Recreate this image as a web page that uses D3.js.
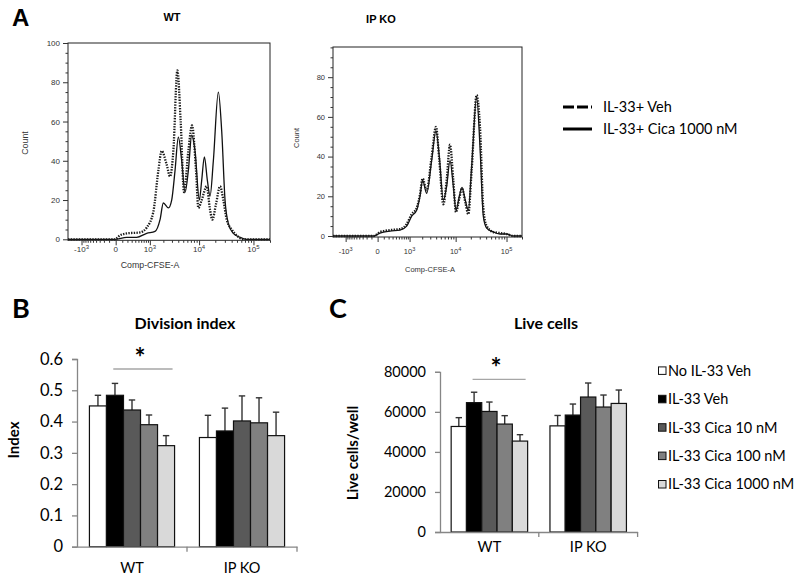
<!DOCTYPE html>
<html><head><meta charset="utf-8">
<script src="https://cdn.jsdelivr.net/npm/d3@7"></script>
<style>body{margin:0;background:#fff}svg{display:block}</style>
</head><body>
<svg id="c" width="800" height="581"></svg>
<script>
// ================= DATA =================
// Panel A: CFSE histograms, [Comp-CFSE-A intensity, count]
const wtVeh = [[-2000,0],[-300,0],[-10,0],[62,2],[184,3],[557,3.5],[837,6],[1208,14],[1562,35],[1843,45],[2346,38],[2743,32],[3200,45],[3843,86],[4461,60],[5179,24],[6269,45],[7358,58],[8763,35],[9686,16],[11189,20],[13860,27],[16000,15],[17640,10],[20630,18],[24440,27],[28160,20],[32440,10],[40000,5],[49450,2],[65500,0],[200000,0]];
const wtCica = [[-2000,0],[-300,0],[-10,0],[184,1],[443,1],[837,3],[1318,4],[1699,10],[1997,18.5],[2537,16],[2964,20],[3455,35],[4020,52],[4668,40],[5415,24],[6269,35],[7261,53],[8388,45],[10117,20],[11189,30],[12553,42],[14270,30],[16000,22],[18420,40],[22780,75],[26270,55],[30210,20],[34800,8],[42840,3],[56900,1],[75300,0],[200000,0]];
const koVeh = [[-2000,0],[-200,0],[-60,0],[35,2],[233,3],[541,3.5],[839,6],[1129,11],[1488,14],[1779,21],[2043,29],[2505,23],[3213,40],[3969,55],[4657,38],[5625,16],[6580,28],[7696,46],[8975,28],[10160,12],[11840,19],[13390,24],[15560,17],[17860,11],[20770,33],[26070,71],[30300,55],[35200,14],[40950,5],[55250,2],[74560,1.5],[100500,1],[135500,0],[200000,0]];
const koCica = [[-2000,0],[-200,0],[-60,0],[35,1.5],[233,2.5],[541,3],[839,5],[1129,10],[1488,13],[1779,20],[2043,28],[2505,21.5],[3213,38],[3969,53],[4657,40],[5625,18],[6580,25],[7696,38],[8975,25],[10160,13],[11840,20],[13390,24.5],[15560,18],[17860,13],[20770,35],[26070,70],[30300,45],[35200,10],[40950,4],[55250,2],[74560,1],[100500,1],[135500,0],[200000,0]];
const cfseTicks = [-1000, 0, 1000, 10000, 100000];
const cfseTickBase = ["-10", "0", "10", "10", "10"];
const cfseTickExp = ["3", "", "3", "4", "5"];
const cfseMinor = [-900,-800,-700,-600,-500,-400,-300,-200,-100,100,200,300,400,500,600,700,800,900,2000,3000,4000,5000,6000,7000,8000,9000,20000,30000,40000,50000,60000,70000,80000,90000,200000];
const countTicksWT = [0,20,40,60,80,100];
const countTicksKO = [0,20,40,60,80];
const histLegend = ["IL-33+ Veh", "IL-33+ Cica 1000 nM"];

// Panels B and C
const groups = ["WT", "IP KO"];
const treatments = ["No IL-33 Veh", "IL-33 Veh", "IL-33 Cica 10 nM", "IL-33 Cica 100 nM", "IL-33 Cica 1000 nM"];
const treatmentColors = ["#ffffff", "#000000", "#595959", "#808080", "#d9d9d9"];
const divWT = [0.450, 0.484, 0.437, 0.390, 0.323];
const divWTerr = [0.034, 0.038, 0.032, 0.031, 0.032];
const divKO = [0.349, 0.370, 0.402, 0.396, 0.355];
const divKOerr = [0.071, 0.073, 0.080, 0.080, 0.075];
const liveWT = [52700, 64600, 60200, 53900, 45400];
const liveWTerr = [4400, 5200, 4700, 4200, 3200];
const liveKO = [53000, 58400, 67400, 62400, 64200];
const liveKOerr = [5200, 5500, 7000, 6000, 6700];
const divTicks = [0, 0.1, 0.2, 0.3, 0.4, 0.5, 0.6];
const liveTicks = [0, 20000, 40000, 60000, 80000];

// ================= DRAW =================
const svg = d3.select("#c");
const ARIAL = "'Liberation Sans', Arial, sans-serif";
const CAL = "Lato, 'Open Sans', sans-serif";

// panel letters
[["A", 12, 26, ARIAL, 24], ["B", 12, 318, CAL, 27], ["C", 329, 318, CAL, 27]].forEach(([t, x, y, f, s]) => {
  svg.append("text").attr("x", x).attr("y", y).attr("font-family", f).attr("font-weight", "bold")
    .attr("font-size", s).text(t);
});

function histPanel(p) {
  const x = d3.scaleSymlog().constant(315).domain([-2000, 200000]).range([p.x0, p.x1]);
  const y = d3.scaleLinear().domain([0, p.yMax]).range([p.yZero, p.yTop]);
  const g = svg.append("g");
  const line = d3.line().x(d => x(d[0])).y(d => y(d[1])).curve(d3.curveMonotoneX);
  g.append("path").datum(p.cica).attr("d", line).attr("fill", "none")
    .attr("stroke", "#111").attr("stroke-width", 1.3);
  g.append("path").datum(p.veh).attr("d", line).attr("fill", "none")
    .attr("stroke", "#1a1a1a").attr("stroke-width", 2.3).attr("stroke-dasharray", "1.4,1.3");
  g.append("rect").attr("x", p.x0).attr("y", p.yTop).attr("width", p.x1 - p.x0)
    .attr("height", p.yZero - p.yTop + 1).attr("fill", "none").attr("stroke", "#222").attr("stroke-width", 1);

  // y axis
  const yMinor = d3.range(5, p.yMax, 5).filter(v => v % 20 !== 0);
  const ya = g.append("g").attr("transform", `translate(${p.x0},0)`)
    .call(d3.axisLeft(y).tickValues(p.yTicks).tickSize(5).tickPadding(3));
  ya.select(".domain").remove();
  ya.selectAll("text").attr("font-family", ARIAL).attr("font-size", p.fs).attr("fill", "#333");
  ya.selectAll("line").attr("stroke", "#333");
  const ym = g.append("g").attr("transform", `translate(${p.x0},0)`)
    .call(d3.axisLeft(y).tickValues(yMinor).tickSize(2.5).tickFormat(""));
  ym.select(".domain").remove();
  ym.selectAll("line").attr("stroke", "#333");

  // x axis
  const xb = p.yZero + 1;
  const xa = g.append("g").attr("transform", `translate(0,${xb})`)
    .call(d3.axisBottom(x).tickValues(cfseTicks).tickSize(5).tickFormat(""));
  xa.select(".domain").remove();
  xa.selectAll("line").attr("stroke", "#333");
  const xm = g.append("g").attr("transform", `translate(0,${xb})`)
    .call(d3.axisBottom(x).tickValues(cfseMinor).tickSize(2.5).tickFormat(""));
  xm.select(".domain").remove();
  xm.selectAll("line").attr("stroke", "#333");
  cfseTicks.forEach((v, i) => {
    const t = g.append("text").attr("x", x(v)).attr("y", xb + p.xLab)
      .attr("text-anchor", "middle").attr("font-family", ARIAL).attr("font-size", p.fs).attr("fill", "#333");
    t.append("tspan").text(cfseTickBase[i]);
    if (cfseTickExp[i]) t.append("tspan").attr("dy", -p.fs * 0.45).attr("font-size", p.fs * 0.75).text(cfseTickExp[i]);
  });

  g.append("text").attr("x", p.cfseX).attr("y", p.cfseY).attr("text-anchor", "middle")
    .attr("font-family", ARIAL).attr("font-size", p.labFs).attr("fill", "#333").text("Comp-CFSE-A");
  g.append("text").attr("transform", `translate(${p.countX},${p.countY}) rotate(-90)`)
    .attr("text-anchor", "middle").attr("font-family", ARIAL).attr("font-size", p.labFs).attr("fill", "#333").text("Count");
  g.append("text").attr("x", p.titleX).attr("y", p.titleY).attr("text-anchor", "middle")
    .attr("font-family", ARIAL).attr("font-weight", "bold").attr("font-size", 11).text(p.title);
}

histPanel({title: "WT", x0: 68, x1: 270, yTop: 43, yZero: 239.3, yMax: 100, yTicks: countTicksWT,
  veh: wtVeh, cica: wtCica, fs: 8, labFs: 8.8, xLab: 12, cfseX: 150, cfseY: 268, countX: 28, countY: 143,
  titleX: 172, titleY: 21});
histPanel({title: "IP KO", x0: 333, x1: 522, yTop: 47, yZero: 236, yMax: 95.2, yTicks: countTicksKO,
  veh: koVeh, cica: koCica, fs: 7.5, labFs: 7.5, xLab: 17, cfseX: 430, cfseY: 272, countX: 299, countY: 138,
  titleX: 381, titleY: 23});

// legend A
const lgA = svg.append("g");
[["4.5,3", 107], [null, 129]].forEach(([dash, yy], i) => {
  const l = lgA.append("line").attr("x1", 563).attr("x2", 592).attr("y1", yy).attr("y2", yy)
    .attr("stroke", "#000").attr("stroke-width", 3);
  if (dash) l.attr("stroke-dasharray", "11,3");
  lgA.append("text").attr("x", 603).attr("y", yy + 5).attr("font-family", CAL).attr("font-size", 14.5)
    .text(histLegend[i]);
});

function barPanel(p) {
  const g = svg.append("g");
  const x0 = d3.scaleBand().domain(groups).range([p.ax0, p.ax1]);
  const x1 = d3.scaleBand().domain(treatments).range([0, x0.bandwidth()]).paddingOuter(0.73);
  const y = d3.scaleLinear().domain(p.domain).range([p.yZero, p.yTop]);
  const bw = x1.bandwidth();

  groups.forEach((gn, gi) => {
    const vals = p.vals[gi], errs = p.errs[gi];
    treatments.forEach((tn, ti) => {
      const bx = x0(gn) + x1(tn);
      // error bar
      g.append("line").attr("x1", bx + bw / 2).attr("x2", bx + bw / 2)
        .attr("y1", y(vals[ti])).attr("y2", y(vals[ti] + errs[ti])).attr("stroke", "#333").attr("stroke-width", 1.4);
      g.append("line").attr("x1", bx + bw / 2 - 3.2).attr("x2", bx + bw / 2 + 3.2)
        .attr("y1", y(vals[ti] + errs[ti])).attr("y2", y(vals[ti] + errs[ti])).attr("stroke", "#333").attr("stroke-width", 1.4);
      g.append("rect").attr("x", bx).attr("y", y(vals[ti])).attr("width", bw)
        .attr("height", y(0) - y(vals[ti])).attr("fill", treatmentColors[ti])
        .attr("stroke", "#111").attr("stroke-width", 1.2);
    });
  });

  // y axis
  const ya = g.append("g").attr("transform", `translate(${p.ax0},0)`)
    .call(d3.axisLeft(y).tickValues(p.ticks).tickSize(5).tickPadding(9).tickFormat(p.fmt));
  ya.select(".domain").attr("stroke", "#868686").attr("stroke-width", 1.3);
  ya.selectAll("line").attr("stroke", "#868686").attr("stroke-width", 1.3);
  ya.selectAll("text").attr("font-family", CAL).attr("font-size", p.tickFs).attr("fill", "#000");
  // x axis
  const xa = g.append("g").attr("transform", `translate(0,${p.yZero})`)
    .call(d3.axisBottom(x0).tickSize(0).tickPadding(p.catPad));
  xa.select(".domain").attr("stroke", "#868686").attr("stroke-width", 1.3);
  xa.selectAll("text").attr("font-family", CAL).attr("font-size", 14.5).attr("fill", "#000");
  groups.forEach(gn => {
    g.append("line").attr("x1", x0(gn) + x0.bandwidth()).attr("x2", x0(gn) + x0.bandwidth())
      .attr("y1", p.yZero).attr("y2", p.yZero + 5).attr("stroke", "#868686").attr("stroke-width", 1.3);
  });

  // significance
  const sx1 = x0("WT") + x1(treatments[1]) + bw * 0.4;
  const sx2 = x0("WT") + x1(treatments[4]) + bw - 2;
  g.append("line").attr("x1", sx1).attr("x2", sx2).attr("y1", p.sigY).attr("y2", p.sigY)
    .attr("stroke", "#a6a6a6").attr("stroke-width", 1.3);
  g.append("text").attr("x", (sx1 + sx2) / 2 - 3).attr("y", p.sigY - 2).attr("text-anchor", "middle")
    .attr("font-family", CAL).attr("font-weight", "bold").attr("font-size", 26).text("*");

  g.append("text").attr("x", p.titleX).attr("y", p.titleY).attr("text-anchor", "middle")
    .attr("font-family", CAL).attr("font-weight", "bold").attr("font-size", 16).text(p.title);
  g.append("text").attr("transform", `translate(${p.ylabX},${p.ylabY}) rotate(-90)`)
    .attr("text-anchor", "middle").attr("font-family", CAL).attr("font-weight", "bold")
    .attr("font-size", 15).text(p.ylab);
}

barPanel({ax0: 77, ax1: 297, yZero: 546.7, yTop: 359, domain: [0, 0.6], ticks: divTicks,
  fmt: d => d === 0 ? "0" : d3.format(".1f")(d), tickFs: 16.5,
  vals: [divWT, divKO], errs: [divWTerr, divKOerr], sigY: 369, catPad: 16,
  title: "Division index", titleX: 185, titleY: 329, ylab: "Index", ylabX: 19, ylabY: 440});
barPanel({ax0: 440, ax1: 637.6, yZero: 532, yTop: 371.8, domain: [0, 80000], ticks: liveTicks,
  fmt: d3.format("d"), tickFs: 14.5,
  vals: [liveWT, liveKO], errs: [liveWTerr, liveKOerr], sigY: 379.3, catPad: 10,
  title: "Live cells", titleX: 546, titleY: 329, ylab: "Live cells/well", ylabX: 358, ylabY: 453});

// legend C
const lgC = svg.append("g");
treatments.forEach((t, i) => {
  const yy = 370.7 + i * 28.4;
  lgC.append("rect").attr("x", 658.5).attr("y", yy - 3.8).attr("width", 7.5).attr("height", 7.5)
    .attr("fill", treatmentColors[i]).attr("stroke", "#111").attr("stroke-width", 1);
  lgC.append("text").attr("x", 668).attr("y", yy + 5).attr("font-family", CAL).attr("font-size", 14.5).text(t);
});
</script>
</body></html>
